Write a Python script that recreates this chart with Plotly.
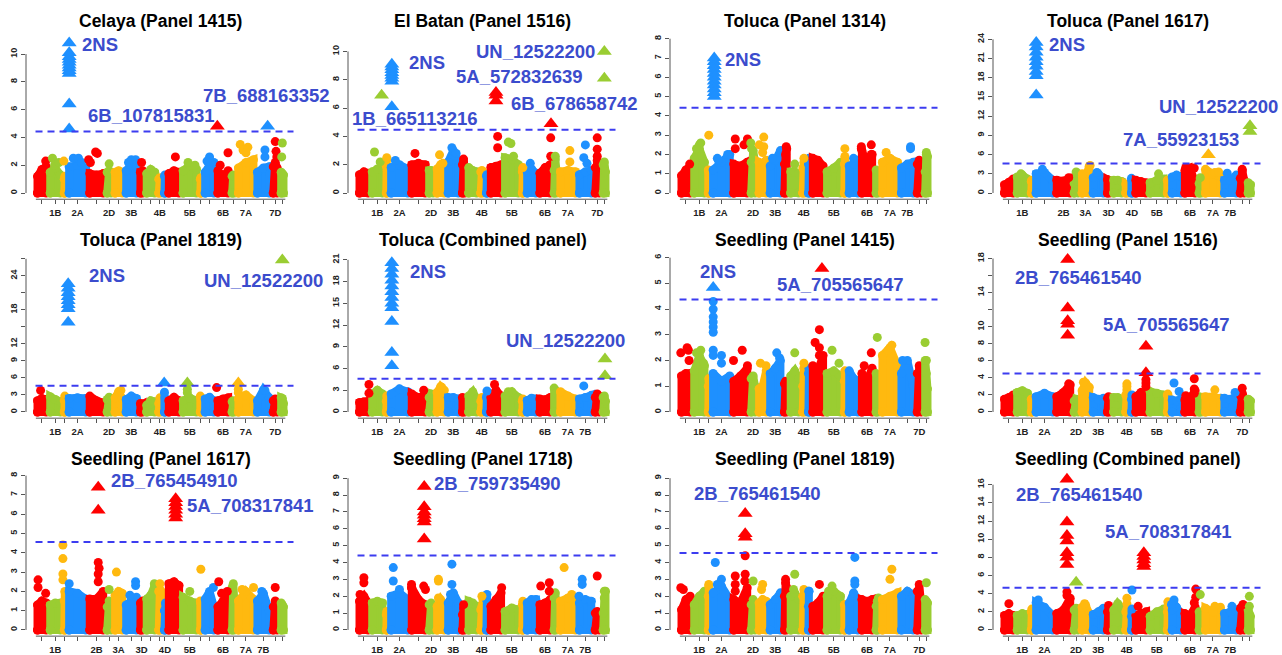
import plotly.graph_objects as go

# ---------------- data ----------------
chromosomes = ["1A", "1B", "1D", "2A", "2B", "2D", "3A", "3B", "3D", "4A", "4B", "4D",
               "5A", "5B", "5D", "6A", "6B", "6D", "7A", "7B", "7D", "UN"]
chrom_sizes = [12.7, 14.2, 4.7, 20.6, 17.4, 7.9, 11.1, 14.2, 6.3, 12.0, 6.3, 3.8,
               14.2, 17.4, 4.7, 12.7, 14.2, 6.3, 19.0, 15.8, 7.9, 6.3]
palette = ["#FF0000", "#9ACD32", "#FFB90F", "#1E90FF"]

titles = ["Celaya (Panel 1415)", "El Batan (Panel 1516)", "Toluca (Panel 1314)", "Toluca (Panel 1617)",
          "Toluca (Panel 1819)", "Toluca (Combined panel)", "Seedling (Panel 1415)", "Seedling (Panel 1516)",
          "Seedling (Panel 1617)", "Seedling (Panel 1718)", "Seedling (Panel 1819)", "Seedling (Combined panel)"]
thresholds = [4.43, 4.47, 4.42, 4.62, 4.63, 4.60, 4.37, 4.52, 4.56, 4.42, 4.56, 4.64]
y_max = [11.1, 10.9, 8.0, 24.1, 27.2, 21.3, 6.0, 18.1, 8.0, 9.15, 9.15, 17.0]
# (top tick, step, tick labels hidden by overlap)
y_ticks = [(10, 2, []), (10, 2, []), (8, 1, []), (24, 3, []), (27, 3, [15, 21, 27]), (21, 3, []),
           (6, 1, []), (18, 2, [12, 16]), (8, 1, []), (9, 1, []), (9, 1, []), (16, 2, [])]
labels_a = ["1B", "2A", "2D", "3B", "4B", "5B", "6B", "7A", "7D"]
labels_b = ["1B", "2A", "2D", "3B", "4B", "5B", "6B", "7A", "7B"]
labels_c = ["1B", "2B", "3A", "3D", "4D", "5B", "6B", "7A", "7B"]
x_labels = [labels_a, labels_a, labels_b, labels_c, labels_a, labels_b,
            labels_a, labels_a, labels_c, labels_b, labels_a, labels_b]

# dense -log10(p) envelope per chromosome (left, middle, right)
celaya_body = [[1.2,1.7,1.9],[1.5,1.8,1.3],[1.0,1.2,1.0],[1.9,2.0,1.8],[1.4,1.3,1.4],[1.5,1.6,1.4],[1.5,1.6,1.5],[1.6,2.0,1.9],[1.5,1.5,1.6],[1.4,1.7,1.5],[1.0,1.1,1.0],[1.2,1.3,1.2],[1.4,1.6,1.5],[1.6,2.0,1.7],[1.0,1.1,1.0],[1.5,2.0,2.2],[1.6,1.2,1.6],[1.2,1.3,1.2],[1.8,2.2,2.4],[1.5,1.8,1.9],[1.9,2.2,1.8],[1.5,1.4,1.3]]
celaya_points = [("1A",0.8,2.3),("1B",0.3,2.5),("1B",0.45,2.0),("1B",0.75,2.2),("1D",0.3,2.3),("2A",0.3,2.5),("2A",0.55,2.5),("2A",0.7,2.2),("2B",0.05,2.4),("2B",0.15,2.2),("2B",0.45,2.95),("2B",0.55,2.85),("2D",0.5,2.1),("3B",0.3,2.2),("3B",0.5,2.4),("3B",0.8,2.4),("3D",0.5,2.2),("5A",0.6,2.6),("5B",0.4,2.2),("5B",0.8,2.0),("6A",0.5,2.6),("6A",0.3,2.3),("6B",0.3,2.0),("6B",0.85,2.9),("7A",0.2,3.5),("7A",0.35,3.1),("7A",0.6,3.3),("7A",0.5,2.9),("7B",0.6,3.1),("7B",0.6,2.6),("7D",0.5,3.7),("7D",0.6,3.0),("7D",0.7,2.6),("UN",0.5,3.6),("UN",0.4,2.6)]
celaya_hits = [("2A",0.1,[10.8,10.1,9.8,9.6,9.4,9.2,9.0,8.8,8.6,6.4,4.6]),("6B",0.1,[4.8]),("7B",0.77,[4.8])]
celaya_labels = [("2NS",44,10.7),("6B_107815831",50,5.6),("7B_688163352",165,7.0)]

batan_body = [[1.3,1.5,1.4],[1.5,1.7,1.6],[1.9,2.4,1.6],[1.8,2.0,1.7],[2.0,2.1,2.0],[1.6,1.6,1.5],[1.7,2.0,1.9],[2.2,3.0,2.3],[2.0,2.2,1.7],[1.8,1.6,1.5],[1.5,1.6,1.5],[1.2,1.3,1.2],[1.8,1.9,2.0],[2.5,2.4,2.0],[1.5,1.7,1.5],[1.5,1.7,1.4],[1.4,1.8,2.0],[1.6,2.4,1.6],[1.5,1.6,1.5],[1.3,1.5,1.6],[1.8,2.3,2.0],[2.0,2.2,1.5]]
batan_points = [("1B",0.3,2.9),("1B",0.7,2.2),("1D",0.5,2.5),("2A",0.3,2.3),("2B",0.3,2.8),("3A",0.7,2.1),("3A",0.4,2.7),("3B",0.4,3.2),("3B",0.7,2.8),("3D",0.5,2.4),("5A",0.62,4.0),("5A",0.62,3.2),("5B",0.3,3.6),("5B",0.45,3.5),("5B",0.6,2.6),("5D",0.5,1.8),("6A",0.4,2.1),("6B",0.9,3.9),("6B",0.9,2.6),("6D",0.5,2.6),("7A",0.6,3.0),("7A",0.6,2.2),("7B",0.5,3.4),("7B",0.4,2.5),("7B",0.6,2.1),("7D",0.5,3.9),("7D",0.5,3.1),("7D",0.5,2.6)]
batan_hits = [("1B",0.8,[6.9]),("2A",0.13,[9.1,8.9,8.7,8.5,8.3,8.1,7.9,6.1]),("5A",0.5,[7.1,6.9,6.5]),("6B",0.92,[4.9]),("UN",0.5,[10.0,8.1])]
batan_labels = [("2NS",49.3,9.2),("1B_665113216",-7.3,5.3),("UN_12522200",116,10.0),("5A_572832639",96.7,8.25),("6B_678658742",151.7,6.3)]

tol1314_body = [[0.9,1.2,1.4],[1.8,2.3,1.6],[1.2,1.1,1.0],[1.2,1.6,2.0],[1.5,1.4,1.6],[1.6,2.2,1.6],[1.6,1.5,1.7],[1.4,1.7,2.2],[1.5,2.0,2.3],[1.1,1.1,1.0],[1.3,1.6,1.2],[1.5,1.8,1.5],[1.8,1.7,1.4],[1.1,1.3,1.6],[1.5,1.9,1.6],[1.4,1.5,1.7],[2.2,1.5,2.0],[1.2,1.1,1.0],[1.6,1.8,1.6],[1.3,1.5,1.6],[1.5,1.7,1.0],[1.1,2.0,1.9]]
tol1314_points = [("1A",0.8,1.5),("1B",0.6,2.6),("1B",0.5,2.5),("1B",0.3,2.3),("1D",0.5,3.0),("2A",0.3,1.8),("2A",0.35,1.7),("2A",0.8,2.0),("2B",0.2,2.8),("2B",0.2,2.3),("2B",0.7,2.5),("2B",0.9,2.8),("2D",0.3,2.3),("2D",0.2,2.6),("3A",0.2,2.5),("3A",0.6,2.9),("3A",0.6,2.4),("3A",0.5,2.1),("3B",0.3,1.8),("3D",0.6,2.4),("4A",0.5,1.5),("4B",0.5,1.8),("5D",0.5,2.3),("6A",0.5,1.8),("6B",0.1,2.4),("6B",0.1,2.3),("6B",0.8,2.5),("6B",0.8,2.0),("7A",0.3,2.1),("7A",0.5,1.8),("7B",0.7,2.4),("7B",0.7,2.3),("UN",0.5,2.1)]
tol1314_hits = [("2A",0.15,[7.0,6.8,6.6,6.4,6.2,6.0,5.8,5.6,5.4,5.2,5.0])]
tol1314_labels = [("2NS",43.3,6.9)]

tol1617_body = [[1.3,1.7,2.2],[2.5,2.8,2.2],[1.8,2.0,1.6],[3.0,3.2,2.0],[2.0,1.9,2.3],[1.5,2.0,1.8],[2.8,2.5,4.2],[2.4,3.0,2.2],[2.1,2.0,1.9],[2.0,2.0,1.8],[1.4,1.3,1.3],[2.3,2.0,1.8],[2.0,1.8,1.6],[1.6,2.0,2.2],[2.0,1.8,2.0],[2.5,2.8,2.6],[3.5,3.9,1.6],[1.5,2.2,1.8],[3.7,3.0,2.5],[2.0,2.0,2.8],[2.3,3.5,2.0],[1.6,1.4,1.3]]
tol1617_points = [("1B",0.4,3.0),("2A",0.4,3.7),("2B",0.8,2.4),("2D",0.5,3.3),("3A",0.9,4.3),("3A",0.2,3.0),("3B",0.4,3.2),("5B",0.6,3.0),("6B",0.2,4.0),("6B",0.8,3.9),("6D",0.5,2.4),("7A",0.6,3.2),("7A",0.8,3.3),("7B",0.3,3.1),("7D",0.5,3.7)]
tol1617_hits = [("2A",0.1,[23.5,22.8,22.0,21.2,20.5,19.8,19.0,18.3,15.3]),("7A",0.26,[6.0]),("UN",0.6,[10.5,9.6])]
tol1617_labels = [("2NS",44,23.2),("7A_55923153",118.3,8.3),("UN_12522200",154,13.5)]

tol1819_body = [[2.0,2.4,2.2],[2.7,2.2,1.8],[2.0,2.8,2.3],[2.4,2.5,2.4],[2.8,2.0,1.6],[2.2,2.6,2.0],[2.5,3.6,2.4],[2.2,2.8,2.4],[1.5,1.3,1.4],[1.2,2.0,1.8],[1.5,2.5,1.8],[3.5,2.5,2.0],[2.0,2.6,2.0],[2.0,2.5,2.0],[2.8,2.5,2.0],[2.3,2.6,2.0],[2.0,2.3,2.5],[1.8,2.0,1.4],[2.3,3.0,2.0],[2.0,3.9,2.5],[2.0,2.3,1.8],[2.5,2.4,1.5]]
tol1819_points = [("1A",0.4,3.8),("3A",0.7,3.8),("5B",0.36,4.0),("5B",0.36,3.4),("6B",0.05,4.3),("7A",0.1,4.0),("7A",0.1,3.4),("7B",0.6,3.8)]
tol1819_hits = [("2A",0.05,[22.6,21.8,21.0,20.3,19.6,18.9,18.2,15.8]),("4D",0.3,[5.1]),("5B",0.36,[5.1]),("7A",0.1,[5.1]),("UN",0.5,[26.8])]
tol1819_labels = [("2NS",51,24.1),("UN_12522200",166.7,23.2)]

tolcomb_body = [[1.3,1.4,1.5],[2.5,3.0,2.5],[1.5,2.2,1.8],[2.5,3.2,2.8],[2.5,2.0,2.2],[2.0,2.5,2.4],[2.7,3.5,3.0],[2.0,2.0,1.8],[2.0,1.6,1.7],[2.2,2.8,1.8],[1.5,2.0,1.8],[2.0,2.2,1.8],[2.0,3.0,2.2],[2.2,2.8,2.0],[1.5,1.8,1.5],[1.6,1.9,1.8],[1.8,1.7,2.0],[3.3,3.0,2.6],[2.8,2.2,1.8],[1.8,2.0,2.3],[2.0,2.5,2.2],[2.0,2.2,1.5]]
tolcomb_points = [("1A",0.9,3.8),("1A",0.9,2.6),("2B",0.8,3.0),("3A",0.6,3.4),("4D",0.5,2.9),("5A",0.4,3.8),("5B",0.3,2.8),("7B",0.4,3.6)]
tolcomb_hits = [("2A",0.13,[20.6,19.8,19.0,18.2,17.4,16.6,15.8,15.0,14.4,12.5,8.2,6.4]),("UN",0.6,[7.3,5.0])]
tolcomb_labels = [("2NS",50.7,19.4),("UN_12522200",146.7,9.9)]

s1415_body = [[1.4,1.5,1.5],[1.6,2.2,1.8],[1.0,1.3,1.2],[1.5,1.2,1.4],[1.2,1.4,1.7],[1.3,1.4,1.0],[0.9,1.0,1.6],[1.5,1.7,2.0],[1.1,1.2,1.1],[1.4,1.6,1.3],[1.0,1.7,1.0],[1.5,1.7,1.4],[1.8,1.6,2.2],[1.5,1.6,1.4],[1.2,1.6,1.2],[1.6,1.3,1.2],[1.5,1.2,1.7],[1.5,1.4,1.2],[2.2,2.5,1.8],[1.5,2.0,1.0],[1.5,1.8,1.2],[2.0,1.5,0.9]]
s1415_points = [("1A",0.1,2.3),("1A",0.6,2.5),("1A",0.7,2.4),("1A",0.75,2.0),("1B",0.3,2.3),("1B",0.6,2.4),("1B",0.8,1.9),("2A",0.1,4.3),("2A",0.1,4.0),("2A",0.1,3.7),("2A",0.1,3.5),("2A",0.1,3.3),("2A",0.1,3.1),("2A",0.1,2.4),("2A",0.1,2.2),("2A",0.5,2.2),("2A",0.5,1.9),("2B",0.1,2.0),("2B",0.6,2.4),("2B",0.9,1.8),("3A",0.3,1.9),("3A",0.8,1.8),("3B",0.6,2.3),("3B",0.8,2.1),("4A",0.5,2.3),("4B",0.5,1.9),("5A",0.6,3.2),("5A",0.3,2.7),("5A",0.6,2.5),("5A",0.6,2.2),("5B",0.4,2.4),("5B",0.8,1.9),("6B",0.3,1.8),("6B",0.8,2.3),("6D",0.5,2.9),("7A",0.6,2.6),("7A",0.4,2.4),("7B",0.2,2.0),("UN",0.3,2.7),("UN",0.5,2.0)]
s1415_hits = [("2A",0.1,[4.84]),("5A",0.78,[5.58])]
s1415_labels = [("2NS",18,5.45),("5A_705565647",95.7,4.97)]

s1516_body = [[1.5,1.7,2.0],[2.3,2.5,2.2],[1.5,1.5,1.4],[1.8,2.2,1.8],[1.8,2.3,3.2],[1.3,1.5,1.4],[2.5,3.4,2.9],[1.7,1.5,1.6],[1.6,1.8,1.5],[1.7,1.7,1.5],[2.0,2.6,1.8],[1.5,2.0,1.8],[1.8,2.3,2.0],[2.4,2.2,2.0],[2.0,2.1,1.8],[1.4,1.3,1.5],[1.4,1.6,2.5],[1.8,1.6,1.5],[1.8,1.8,1.6],[1.6,1.5,1.7],[2.0,2.2,1.6],[1.5,1.4,1.3]]
s1516_points = [("2B",0.8,3.3),("3A",0.3,3.5),("4B",0.5,3.3),("4B",0.5,3.0),("5A",0.85,3.8),("5A",0.85,3.4),("5A",0.85,3.0),("6A",0.3,3.4),("6A",0.7,2.4),("6B",0.8,3.9),("6B",0.8,2.7),("6B",0.8,2.2),("6B",0.2,1.9),("7A",0.6,2.6),("7B",0.8,2.3),("7D",0.5,2.8)]
s1516_hits = [("2B",0.74,[17.9,12.2,10.7,10.3,9.0]),("5A",0.85,[7.7,4.6])]
s1516_labels = [("2B_765461540",10,15.8),("5A_705565647",98.3,10.3)]

s1617_body = [[1.3,1.5,1.4],[1.3,1.4,1.4],[1.5,2.0,1.5],[2.0,1.9,1.6],[1.6,1.6,2.0],[1.2,1.5,1.0],[1.8,2.0,1.9],[1.3,1.5,1.7],[1.4,1.3,1.5],[1.6,1.8,2.3],[2.0,2.1,2.0],[1.0,1.0,1.4],[2.4,2.5,2.3],[1.7,1.5,1.4],[1.5,1.4,1.3],[1.6,2.0,1.2],[1.2,1.5,1.8],[2.2,2.4,1.4],[1.5,2.0,1.6],[1.5,1.9,1.0],[1.2,1.5,1.0],[1.4,1.3,1.2]]
s1617_points = [("1A",0.2,2.6),("1A",0.2,2.2),("1A",0.8,1.9),("1D",0.1,4.4),("1D",0.1,3.7),("1D",0.1,2.9),("1D",0.1,2.6),("2A",0.1,2.4),("2B",0.6,3.5),("2B",0.65,3.2),("2B",0.6,2.9),("2B",0.6,2.5),("2D",0.5,2.1),("3A",0.3,3.0),("3B",0.8,2.5),("3B",0.8,2.3),("3B",0.4,1.8),("4A",0.8,2.4),("4B",0.5,2.4),("5B",0.5,2.0),("5D",0.5,3.15),("6A",0.8,2.2),("6B",0.2,2.5),("6B",0.4,1.9),("6B",0.8,2.0),("7A",0.3,2.1),("7A",0.9,2.2),("7B",0.4,2.0),("7D",0.5,2.2)]
s1617_hits = [("2B",0.6,[7.4,6.2]),("5A",0.62,[6.8,6.6,6.4,6.2,6.0,5.8])]
s1617_labels = [("2B_765454910",73.3,7.75),("5A_708317841",149,6.43)]

s1718_body = [[1.7,2.0,1.6],[1.6,1.7,1.6],[0.9,1.1,1.0],[2.0,2.2,1.8],[2.5,1.8,1.5],[1.5,1.6,1.3],[1.4,1.8,1.5],[1.6,2.2,1.6],[0.9,1.3,1.2],[1.7,1.6,1.4],[1.2,1.4,1.8],[1.8,2.1,1.5],[1.4,1.8,2.2],[1.1,1.3,1.2],[1.5,1.7,1.5],[1.6,1.8,1.8],[1.5,1.6,1.8],[1.9,2.2,1.5],[1.7,1.9,1.7],[1.6,1.8,1.7],[1.0,1.1,0.9],[1.0,1.9,2.3]]
s1718_points = [("1A",0.5,3.1),("1A",0.5,2.8),("1A",0.2,2.1),("2A",0.2,3.7),("2A",0.2,2.9),("2A",0.5,2.4),("2B",0.1,2.7),("2B",0.1,2.5),("2B",0.8,2.6),("2B",0.9,2.4),("3A",0.3,3.0),("3A",0.3,2.9),("3A",0.3,1.9),("3B",0.4,3.9),("3B",0.4,2.7),("3B",0.3,2.1),("3D",0.5,1.5),("4B",0.5,2.0),("5A",0.9,2.5),("6B",0.2,2.6),("6B",0.8,2.8),("6B",0.8,2.3),("7A",0.3,3.7),("7A",0.7,2.1),("7B",0.3,3.0),("7B",0.3,2.7),("7B",0.1,2.0),("7D",0.5,3.2),("UN",0.5,2.3)]
s1718_hits = [("2B",0.83,[8.5,7.3,7.0,6.8,6.6,6.4,5.4])]
s1718_labels = [("2B_759735490",74,8.7)]

s1819_body = [[1.2,1.8,2.0],[1.5,2.0,2.3],[2.0,2.6,1.5],[2.2,2.6,1.8],[1.8,1.6,2.5],[1.5,1.8,1.6],[1.6,1.8,1.7],[1.5,1.8,2.2],[2.0,2.8,2.5],[2.0,2.2,1.8],[2.0,2.4,1.5],[1.4,2.3,1.2],[1.4,1.6,2.0],[2.0,2.3,2.0],[1.5,1.5,1.2],[1.6,2.2,1.8],[1.8,1.7,1.8],[1.4,1.7,1.9],[1.8,2.0,2.2],[2.0,2.3,2.1],[2.3,2.7,1.5],[1.8,1.7,1.6]]
s1819_points = [("1A",0.1,2.5),("1A",0.3,2.4),("1D",0.5,2.7),("2A",0.2,4.0),("2A",0.5,3.0),("2A",0.3,2.7),("2B",0.2,3.2),("2B",0.2,2.7),("2B",0.2,2.3),("2B",0.77,3.3),("2B",0.75,2.9),("2B",0.77,4.4),("2D",0.5,2.9),("3A",0.5,2.7),("3A",0.4,2.4),("3D",0.5,3.0),("4A",0.5,3.3),("4A",0.4,2.4),("4D",0.5,2.3),("5A",0.6,2.7),("5B",0.4,2.6),("5B",0.2,2.3),("6A",0.6,4.3),("6A",0.6,2.9),("6A",0.6,2.7),("7A",0.6,3.6),("7A",0.5,3.0),("UN",0.5,2.8)]
s1819_hits = [("2B",0.77,[6.9,5.7,5.5])]
s1819_labels = [("2B_765461540",12.3,8.1)]

scomb_body = [[1.6,1.8,1.6],[1.6,1.8,1.7],[2.0,2.3,2.0],[3.0,2.5,1.6],[1.8,2.2,3.5],[2.2,2.4,2.0],[2.5,2.7,1.8],[1.7,2.0,2.4],[2.0,2.7,2.0],[2.2,2.9,2.4],[2.0,2.3,1.8],[1.5,2.0,1.7],[1.6,1.8,2.0],[1.5,2.0,2.3],[2.0,2.5,2.2],[2.2,2.5,1.8],[1.8,1.6,2.5],[2.0,1.8,1.5],[2.4,2.0,2.5],[1.8,2.0,2.2],[2.4,2.6,2.0],[2.2,1.8,1.5]]
scomb_points = [("1A",0.5,2.9),("2A",0.2,3.3),("2B",0.7,4.2),("2B",0.7,3.8),("3A",0.4,2.9),("4B",0.5,3.5),("4B",0.5,2.9),("4D",0.5,4.4),("4D",0.5,2.3),("5A",0.3,2.6),("5D",0.5,3.1),("6A",0.3,3.3),("6A",0.1,2.8),("6B",0.9,4.5),("6B",0.9,3.6),("6B",0.8,3.0),("6D",0.5,3.9),("7A",0.6,2.6),("7B",0.6,2.6),("7D",0.6,2.8),("UN",0.5,3.7),("UN",0.5,2.6)]
scomb_hits = [("2B",0.7,[16.6,11.9,10.4,9.8,8.5,8.0,7.2]),("2D",0.5,[5.25]),("5A",0.7,[8.5,8.1,7.7,7.3,7.0])]
scomb_labels = [("2B_765461540",11,14.9),("5A_708317841",100,10.8)]

bodies = [celaya_body, batan_body, tol1314_body, tol1617_body, tol1819_body, tolcomb_body,
          s1415_body, s1516_body, s1617_body, s1718_body, s1819_body, scomb_body]
points = [celaya_points, batan_points, tol1314_points, tol1617_points, tol1819_points, tolcomb_points,
          s1415_points, s1516_points, s1617_points, s1718_points, s1819_points, scomb_points]
hits = [celaya_hits, batan_hits, tol1314_hits, tol1617_hits, tol1819_hits, tolcomb_hits,
        s1415_hits, s1516_hits, s1617_hits, s1718_hits, s1819_hits, scomb_hits]
labels = [celaya_labels, batan_labels, tol1314_labels, tol1617_labels, tol1819_labels, tolcomb_labels,
          s1415_labels, s1516_labels, s1617_labels, s1718_labels, s1819_labels, scomb_labels]

# ---------------- figure ----------------
W, H = 1282, 655
col_left = [26, 348, 670, 993]
row_top = [33, 255, 476]
title_y = [21, 243, 465]
PW, PH = 269, 169
LABEL_COLOR = "#3B4CCD"
FONT = "Liberation Sans, Arial, sans-serif"

starts = []
acc = 0.0
for s in chrom_sizes:
    starts.append(acc)
    acc += s
total = acc
centers = [starts[i] + chrom_sizes[i] / 2 for i in range(len(chromosomes))]
cidx = {c: i for i, c in enumerate(chromosomes)}
ccolor = {c: palette[i % 4] for i, c in enumerate(chromosomes)}


def xpos(chrom, frac):
    i = cidx[chrom]
    return starts[i] + frac * chrom_sizes[i]


fig = go.Figure()
shapes = []
annotations = []
layout = {}

for p in range(12):
    r, c = divmod(p, 4)
    n = "" if p == 0 else str(p + 1)
    xa, ya = "x" + n, "y" + n
    left, top = col_left[c], row_top[r]
    M = y_max[p]

    # dense body of each chromosome
    for i, ch in enumerate(chromosomes):
        s, w = starts[i], chrom_sizes[i]
        v = bodies[p][i]
        if w > 5:
            x0, x1 = s + 2.0, s + w - 2.0
        else:
            x0, x1 = s + w / 2 - 0.5, s + w / 2 + 0.5
        xm = s + w / 2
        fig.add_trace(go.Scatter(
            x=[x0, x0, xm, x1, x1, x0], y=[0, v[0], v[1], v[2], 0, 0],
            mode="lines+markers", fill="toself", fillcolor=ccolor[ch],
            line=dict(color=ccolor[ch], width=8),
            marker=dict(color=ccolor[ch], size=9),
            xaxis=xa, yaxis=ya, showlegend=False, hoverinfo="skip", cliponaxis=False))

    # scattered points above the body
    pts = points[p]
    fig.add_trace(go.Scatter(
        x=[xpos(ch, f) for ch, f, _ in pts], y=[val for _, _, val in pts],
        mode="markers", marker=dict(color=[ccolor[ch] for ch, _, _ in pts], size=9),
        xaxis=xa, yaxis=ya, showlegend=False, cliponaxis=False))

    # significant markers (triangles)
    hx, hy, hc = [], [], []
    for ch, f, vals in hits[p]:
        for val in vals:
            hx.append(xpos(ch, f))
            hy.append(val)
            hc.append(ccolor[ch])
    fig.add_trace(go.Scatter(
        x=hx, y=hy, mode="markers",
        marker=dict(color=hc, size=13, symbol="triangle-up"),
        xaxis=xa, yaxis=ya, showlegend=False, cliponaxis=False))

    # axes
    ytop, ystep, hidden = y_ticks[p]
    tv = list(range(0, ytop + 1, ystep))
    tt = ["" if t in hidden else str(t) for t in tv]
    xk = "xaxis" + n
    yk = "yaxis" + n
    layout[xk] = dict(domain=[left / W, (left + PW) / W], anchor=ya,
                      range=[-9.5, total + 9.5], showgrid=False, zeroline=False, showline=False,
                      tickmode="array", tickvals=centers,
                      ticktext=[ch if ch in x_labels[p] else "" for ch in chromosomes],
                      ticks="outside", ticklen=4, tickcolor="#555", tickangle=0,
                      tickfont=dict(family=FONT, size=9.5, color="#222", weight="bold"))
    layout[yk] = dict(domain=[1 - (top + PH) / H, 1 - top / H], anchor=xa,
                      range=[-0.04 * M, 1.04 * M], showgrid=False, zeroline=False, showline=False,
                      tickmode="array", tickvals=tv, ticktext=tt,
                      ticks="outside", ticklen=4, tickcolor="#555", tickangle=-90,
                      tickfont=dict(family=FONT, size=9, color="#222", weight="bold"))

    xd = xa + " domain"
    yd = ya + " domain"
    shapes.append(dict(type="line", xref=xd, yref=ya, x0=0, x1=0, y0=0, y1=ytop,
                       line=dict(color="#555", width=1)))
    shapes.append(dict(type="line", xref=xa, yref=yd, x0=centers[0] - 6, x1=centers[-1] + 3, y0=0, y1=0,
                       line=dict(color="#555", width=1)))
    shapes.append(dict(type="line", xref=xa, yref=ya, x0=0, x1=total + 8,
                       y0=thresholds[p], y1=thresholds[p],
                       line=dict(color="#3C3CF0", width=2, dash="7px,5px")))

    annotations.append(dict(text="<b>" + titles[p] + "</b>", xref="paper", yref="paper",
                            x=(left + PW / 2) / W, y=1 - title_y[r] / H, xanchor="center",
                            yanchor="middle", showarrow=False,
                            font=dict(family=FONT, size=17.5, color="#000")))
    for txt, lx, ly in labels[p]:
        annotations.append(dict(text="<b>" + txt + "</b>", xref=xa, yref=ya, x=lx, y=ly,
                                xanchor="left", yanchor="middle", showarrow=False,
                                font=dict(family=FONT, size=18.5, color=LABEL_COLOR)))

fig.update_layout(width=W, height=H, margin=dict(l=0, r=0, t=0, b=0),
                  paper_bgcolor="white", plot_bgcolor="white",
                  shapes=shapes, annotations=annotations, showlegend=False, **layout)

fig.write_html("out.html", config={"displayModeBar": False})
